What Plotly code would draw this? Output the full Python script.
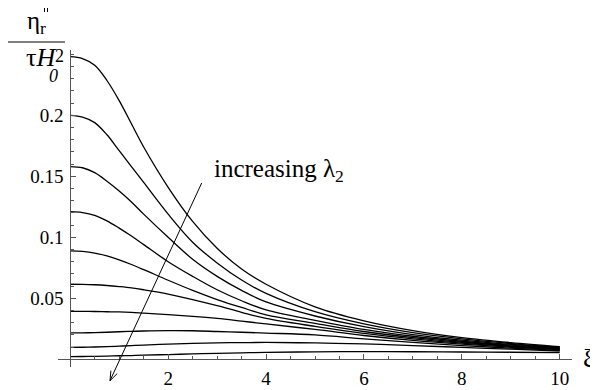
import plotly.graph_objects as go

# ─────────────────────────────────────────
# DONNÉES
# ─────────────────────────────────────────
xi = [0, 0.25, 0.5, 0.75, 1, 1.25, 1.5, 2, 2.5, 3, 3.5, 4, 5, 6, 7, 8, 9, 10]

# une courbe par valeur de lambda_2 (de la plus haute à la plus basse)
eta_1 = [0.248, 0.2465, 0.241, 0.2285, 0.212, 0.193, 0.174, 0.141, 0.113, 0.091, 0.074, 0.0615, 0.043, 0.0315, 0.0235, 0.0178, 0.0137, 0.0104]
eta_2 = [0.200, 0.1985, 0.194, 0.184, 0.171, 0.158, 0.145, 0.119, 0.096, 0.079, 0.065, 0.054, 0.039, 0.029, 0.0218, 0.0167, 0.0129, 0.0099]
eta_3 = [0.158, 0.157, 0.153, 0.146, 0.138, 0.129, 0.119, 0.100, 0.082, 0.068, 0.0565, 0.047, 0.0355, 0.0267, 0.0203, 0.0157, 0.0122, 0.0095]
eta_4 = [0.121, 0.1203, 0.118, 0.1135, 0.1075, 0.101, 0.094, 0.080, 0.068, 0.057, 0.048, 0.0405, 0.032, 0.0245, 0.0189, 0.0148, 0.0116, 0.0091]
eta_5 = [0.0888, 0.0884, 0.0871, 0.0847, 0.0815, 0.0777, 0.0735, 0.0648, 0.0565, 0.049, 0.0425, 0.0365, 0.0295, 0.0228, 0.0178, 0.014, 0.011, 0.0087]
eta_6 = [0.0615, 0.0614, 0.0611, 0.0605, 0.0596, 0.0585, 0.057, 0.0535, 0.049, 0.044, 0.0385, 0.0335, 0.027, 0.0212, 0.0167, 0.0132, 0.0105, 0.0083]
eta_7 = [0.0393, 0.0393, 0.0392, 0.039, 0.0388, 0.0384, 0.0378, 0.0366, 0.0352, 0.0335, 0.0313, 0.029, 0.0245, 0.0195, 0.0155, 0.0124, 0.0099, 0.0079]
eta_8 = [0.0216, 0.0217, 0.0219, 0.0222, 0.0226, 0.0229, 0.0232, 0.0235, 0.0234, 0.0228, 0.0222, 0.0215, 0.020, 0.0168, 0.0138, 0.0113, 0.0092, 0.0074]
eta_9 = [0.0098, 0.0099, 0.0101, 0.0104, 0.0108, 0.0112, 0.0117, 0.0125, 0.0131, 0.0135, 0.0137, 0.0138, 0.0134, 0.0126, 0.0113, 0.0098, 0.0083, 0.0068]
eta_10 = [0.0022, 0.0023, 0.0024, 0.0026, 0.0029, 0.0031, 0.0034, 0.0039, 0.0044, 0.0049, 0.0053, 0.0057, 0.0061, 0.0063, 0.0062, 0.0060, 0.0058, 0.0055]

curves = [eta_1, eta_2, eta_3, eta_4, eta_5, eta_6, eta_7, eta_8, eta_9, eta_10]

x_ticks = [2, 4, 6, 8, 10]
x_labels = ["2", "4", "6", "8", "10"]
y_ticks = [0.05, 0.1, 0.15, 0.2]
y_labels = ["0.05", "0.1", "0.15", "0.2"]

X_RANGE = [-0.25, 10.25]
Y_RANGE = [-0.0063, 0.2535]

FONT = "Liberation Serif"

# la page HTML a une marge de 8 px : on en tient compte
OFF = 8
# zone de tracé en pixels de la page (598x390)
L, T, W, H = 58, 50, 514, 317

def px(x):
    return (x - L) / W

def py(y):
    return (T + H - y) / H

# ─────────────────────────────────────────
# FIGURE
# ─────────────────────────────────────────
fig = go.Figure()

for ys in curves:
    fig.add_trace(go.Scatter(
        x=xi, y=ys,
        mode="lines",
        line=dict(color="black", width=1.3, shape="spline", smoothing=1.0),
        showlegend=False,
        hoverinfo="skip",
    ))

axis_common = dict(
    showgrid=False,
    zeroline=False,
    showline=True,
    linecolor="#555555",
    linewidth=1,
    ticks="inside",
    tickcolor="#555555",
    tickwidth=1,
    ticklen=5,
    tickmode="array",
    tickfont=dict(family=FONT, size=19, color="black"),
    automargin=False,
    anchor="free",
)

fig.update_layout(
    width=598 - OFF,
    height=390 - OFF,
    margin=dict(l=L - OFF, r=598 - L - W, t=T - OFF, b=390 - T - H),
    plot_bgcolor="white",
    paper_bgcolor="white",
    xaxis=dict(
        axis_common,
        range=X_RANGE,
        position=(0 - Y_RANGE[0]) / (Y_RANGE[1] - Y_RANGE[0]),
        tickvals=x_ticks,
        ticktext=x_labels,
        ticklabelstandoff=2,
        minor=dict(ticks="inside", ticklen=3, tickcolor="#555555",
                   tickmode="linear", tick0=0, dtick=0.5),
    ),
    yaxis=dict(
        axis_common,
        range=Y_RANGE,
        position=(0 - X_RANGE[0]) / (X_RANGE[1] - X_RANGE[0]),
        tickvals=y_ticks,
        ticktext=y_labels,
        ticklabelstandoff=3,
        minor=dict(ticks="inside", ticklen=3, tickcolor="#555555",
                   tickmode="linear", tick0=0, dtick=0.01),
    ),
)

# flèche "increasing lambda_2" (tête ouverte dessinée avec deux segments)
arrow_start = (201.7, 183)
arrow_tip = (110, 380.7)
barb_1 = (110.9, 370.7)
barb_2 = (117.2, 373.6)
for a, b in [(arrow_start, arrow_tip), (barb_1, arrow_tip), (barb_2, arrow_tip)]:
    fig.add_shape(type="line", xref="paper", yref="paper",
                  x0=px(a[0]), y0=py(a[1]), x1=px(b[0]), y1=py(b[1]),
                  line=dict(color="black", width=1))

fig.add_annotation(
    x=px(212), y=py(170), xref="paper", yref="paper",
    text="increasing λ<sub>2</sub>", showarrow=False,
    xanchor="left", yanchor="middle",
    font=dict(family=FONT, size=25, color="black"),
)

# titre de l'axe y : fraction
fig.add_annotation(
    x=px(36), y=py(22), xref="paper", yref="paper",
    text="η<sub>r</sub>", showarrow=False,
    xanchor="center", yanchor="middle",
    font=dict(family=FONT, size=25, color="black"),
)
for xb in (44.5, 47.5):
    fig.add_shape(type="line", xref="paper", yref="paper",
                  x0=px(xb), y0=py(5), x1=px(xb), y1=py(12),
                  line=dict(color="black", width=1))
fig.add_shape(type="line", xref="paper", yref="paper",
              x0=px(8), y0=py(42), x1=px(65), y1=py(42),
              line=dict(color="black", width=1))
fig.add_annotation(
    x=px(41), y=py(58), xref="paper", yref="paper",
    text="τ<i>H</i>", showarrow=False,
    xanchor="center", yanchor="middle",
    font=dict(family=FONT, size=26, color="black"),
)
fig.add_annotation(
    x=px(53), y=py(76), xref="paper", yref="paper",
    text="<i>0</i>", showarrow=False,
    xanchor="center", yanchor="middle",
    font=dict(family=FONT, size=18, color="black"),
)
fig.add_annotation(
    x=px(59), y=py(56), xref="paper", yref="paper",
    text="2", showarrow=False,
    xanchor="center", yanchor="middle",
    font=dict(family=FONT, size=18, color="black"),
)

# étiquette de l'axe x
fig.add_annotation(
    x=px(589), y=py(358), xref="paper", yref="paper",
    text="ξ", showarrow=False,
    xanchor="center", yanchor="middle",
    font=dict(family=FONT, size=26, color="black"),
)

fig.write_html("out.html")
